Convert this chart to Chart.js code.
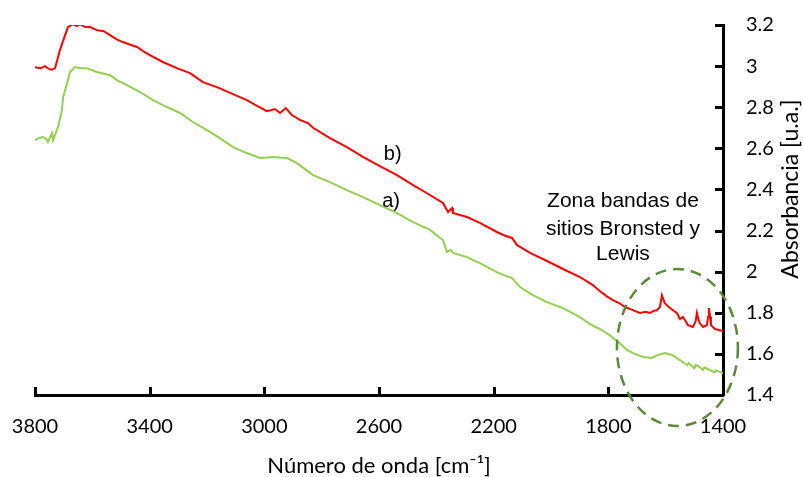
<!DOCTYPE html>
<html><head><meta charset="utf-8">
<script src="https://cdn.jsdelivr.net/npm/chart.js@4.4.1/dist/chart.umd.min.js"></script>
<style>html,body{margin:0;padding:0;background:#fff}</style>
</head><body>
<canvas id="c" width="803" height="477"></canvas>
<script>
// ---- data ----
const wavenumbersB = [3800,3780,3765,3750,3741,3730,3713,3695,3685,3667,3655,3643,3625,3608,3584,3560,3538,3515,3493,3470,3444,3420,3399,3354,3305,3259,3214,3165,3109,3061,3030,2991,2963,2945,2925,2904,2876,2848,2830,2771,2712,2656,2597,2537,2481,2422,2377,2359,2345,2342,2293,2248,2189,2160,2136,2119,2073,2014,1958,1899,1854,1829,1805,1784,1759,1742,1714,1690,1670,1655,1640,1630,1620,1613,1603,1585,1561,1550,1540,1533,1522,1505,1495,1491,1485,1481,1470,1456,1452,1449,1445,1442,1428,1400];
const absorbanceB  = [2.995,2.99,3.0,2.985,2.982,2.99,3.078,3.151,3.19,3.204,3.195,3.204,3.19,3.19,3.175,3.17,3.151,3.13,3.117,3.105,3.093,3.07,3.054,3.02,2.99,2.966,2.922,2.898,2.864,2.835,2.81,2.781,2.791,2.772,2.796,2.762,2.738,2.723,2.70,2.650,2.606,2.558,2.514,2.470,2.421,2.373,2.334,2.290,2.309,2.285,2.266,2.237,2.193,2.175,2.164,2.130,2.091,2.052,2.013,1.974,1.935,1.905,1.880,1.862,1.845,1.828,1.813,1.799,1.805,1.799,1.81,1.813,1.828,1.885,1.847,1.823,1.799,1.770,1.78,1.765,1.740,1.731,1.76,1.799,1.765,1.750,1.731,1.740,1.78,1.823,1.78,1.740,1.721,1.711];
const wavenumbersA = [3800,3785,3772,3760,3755,3745,3741,3737,3720,3706,3702,3688,3678,3660,3640,3619,3600,3584,3538,3514,3479,3434,3388,3340,3294,3249,3200,3155,3109,3061,3015,2990,2970,2945,2921,2886,2830,2771,2712,2656,2597,2537,2481,2422,2377,2363,2349,2342,2293,2248,2189,2150,2136,2108,2063,2014,1958,1899,1864,1829,1794,1759,1735,1714,1679,1648,1627,1603,1578,1550,1525,1520,1500,1495,1481,1470,1465,1446,1430,1425,1400];
const absorbanceA  = [2.640,2.65,2.655,2.645,2.631,2.66,2.674,2.640,2.703,2.786,2.849,2.917,2.971,2.995,2.99,2.990,2.98,2.971,2.956,2.932,2.908,2.874,2.835,2.801,2.772,2.728,2.689,2.650,2.606,2.577,2.553,2.555,2.558,2.555,2.553,2.528,2.470,2.436,2.397,2.363,2.324,2.285,2.241,2.203,2.154,2.096,2.105,2.091,2.071,2.042,1.998,1.975,1.969,1.925,1.886,1.852,1.823,1.779,1.745,1.720,1.690,1.650,1.619,1.604,1.585,1.580,1.595,1.604,1.595,1.570,1.545,1.556,1.530,1.546,1.536,1.522,1.535,1.522,1.510,1.52,1.507];
const xTicks = [3800,3400,3000,2600,2200,1800,1400];
const yTicks = [1.4,1.6,1.8,2.0,2.2,2.4,2.6,2.8,3.0,3.2];
const seriesNames = ['b)','a)'];
const zoneText = ['Zona bandas de','sitios Bronsted y','Lewis'];
const xTitle = 'Número de onda [cm⁻¹]';
const yTitle = 'Absorbancia [u.a.]';

// ---- annotation placement (data units) ----
const labelPos = { b: {x: 2552, y: 2.572}, a: {x: 2558, y: 2.343} };
const zonePos = { x: 1749, y: [2.344, 2.208, 2.086] };
const zoneEllipse = { cx: 1559, cy: 1.631, rx: 211, ry: 0.382 };

const toPts = (xs, ys) => xs.map((x, i) => ({x, y: ys[i]}));
const TICK_FONT = {family: 'Lato', size: 20};

const decor = {
  id: 'decor',
  afterDraw(chart) {
    const {ctx, chartArea: ca} = chart;
    const xs = chart.scales.x, ys = chart.scales.y;
    ctx.save();
    // inside tick marks
    ctx.strokeStyle = '#000'; ctx.lineWidth = 3;
    xTicks.forEach(v => { const p = Math.round(xs.getPixelForValue(v)) + 0.5; ctx.beginPath(); ctx.moveTo(p, ca.bottom); ctx.lineTo(p, ca.bottom - 8); ctx.stroke(); });
    yTicks.forEach(v => { const p = Math.round(ys.getPixelForValue(v)) + 0.5; ctx.beginPath(); ctx.moveTo(ca.right, p); ctx.lineTo(ca.right - 8, p); ctx.stroke(); });
    // dashed ellipse
    const ex = xs.getPixelForValue(zoneEllipse.cx), ey = ys.getPixelForValue(zoneEllipse.cy);
    const erx = Math.abs(xs.getPixelForValue(zoneEllipse.cx + zoneEllipse.rx) - ex);
    const ery = Math.abs(ys.getPixelForValue(zoneEllipse.cy + zoneEllipse.ry) - ey);
    ctx.strokeStyle = '#5b8a3a'; ctx.lineWidth = 2.5; ctx.setLineDash([11, 7]);
    ctx.beginPath(); ctx.ellipse(ex, ey, erx, ery, 0, 0, Math.PI * 2); ctx.stroke();
    ctx.setLineDash([]);
    // labels
    ctx.fillStyle = '#000'; ctx.textAlign = 'center'; ctx.textBaseline = 'middle';
    ctx.font = '20px "Liberation Sans", Arial, sans-serif';
    ctx.fillText(seriesNames[0], xs.getPixelForValue(labelPos.b.x), ys.getPixelForValue(labelPos.b.y));
    ctx.fillText(seriesNames[1], xs.getPixelForValue(labelPos.a.x), ys.getPixelForValue(labelPos.a.y));
    ctx.font = '21px "Liberation Sans", Arial, sans-serif';
    zoneText.forEach((t, i) => ctx.fillText(t, xs.getPixelForValue(zonePos.x), ys.getPixelForValue(zonePos.y[i])));
    // y axis title (reads bottom to top)
    ctx.font = '23px Lato, sans-serif';
    ctx.translate(791, 189); ctx.rotate(-Math.PI / 2);
    ctx.fillText(yTitle, 0, 0);
    ctx.restore();
  }
};

new Chart(document.getElementById('c'), {
  type: 'line',
  data: {
    datasets: [
      {label: seriesNames[0], data: toPts(wavenumbersB, absorbanceB), borderColor: '#ff0000', borderWidth: 2, pointRadius: 0, tension: 0},
      {label: seriesNames[1], data: toPts(wavenumbersA, absorbanceA), borderColor: '#92d050', borderWidth: 2, pointRadius: 0, tension: 0}
    ]
  },
  options: {
    responsive: false, animation: false, devicePixelRatio: 1,
    layout: {padding: {left: 35, top: 25, right: 0, bottom: 0}},
    plugins: {legend: {display: false}, tooltip: {enabled: false}},
    scales: {
      x: {
        type: 'linear', reverse: true, min: 1400, max: 3800,
        afterBuildTicks: s => { s.ticks = xTicks.map(v => ({value: v})); },
        afterFit: s => { s.height = 82; s.paddingLeft = 0; s.paddingRight = 0; },
        ticks: {font: TICK_FONT, color: '#000', padding: 20, maxRotation: 0, autoSkip: false, callback: v => String(v)},
        grid: {display: false, drawTicks: false},
        border: {display: true, color: '#000', width: 3},
        title: {display: true, text: xTitle, color: '#000', font: {family: 'Lato', size: 22, lineHeight: 1}, padding: {top: 0, bottom: 0}}
      },
      y: {
        position: 'right', min: 1.4, max: 3.2,
        afterBuildTicks: s => { s.ticks = yTicks.map(v => ({value: v})); },
        afterFit: s => { s.width = 80; s.paddingTop = 0; s.paddingBottom = 0; },
        ticks: {font: TICK_FONT, color: '#000', padding: 23, autoSkip: false, callback: v => String(+v.toFixed(1))},
        grid: {display: false, drawTicks: false},
        border: {display: true, color: '#000', width: 3}
      }
    }
  },
  plugins: [decor]
});
</script>
</body></html>
